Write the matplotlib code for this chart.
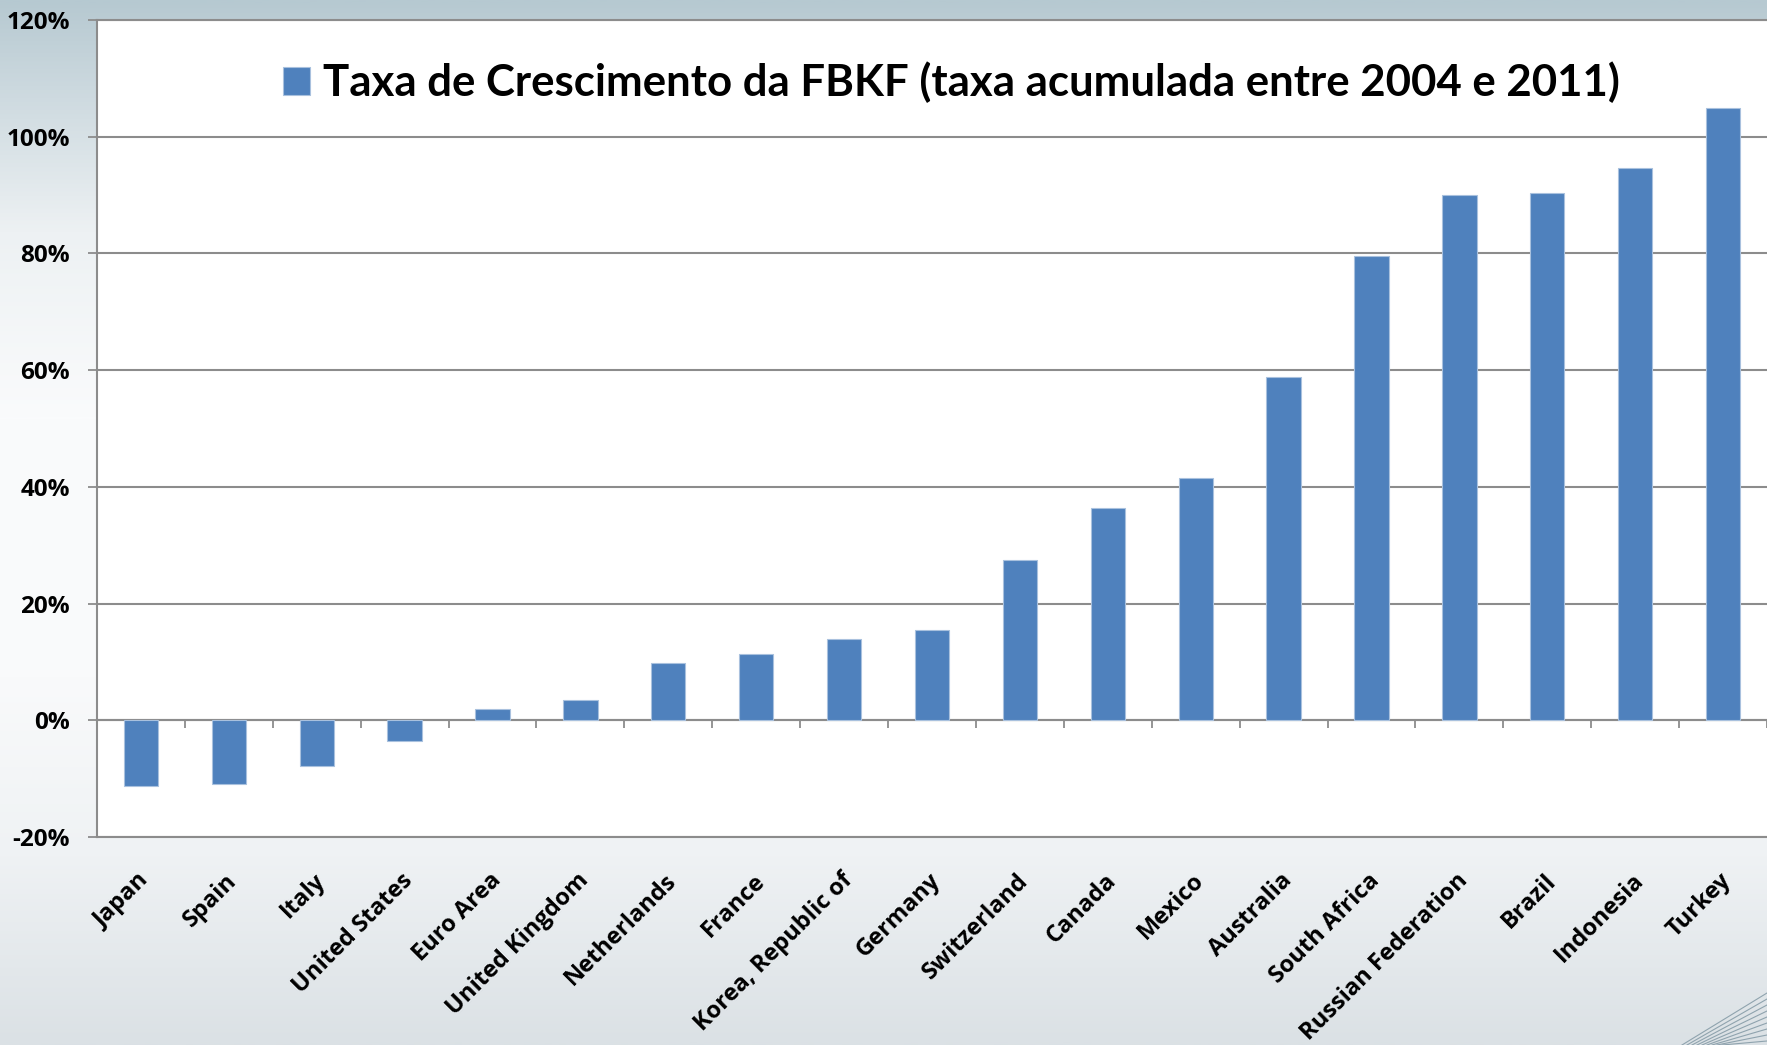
import numpy as np
import matplotlib
matplotlib.use("Agg")
import matplotlib.pyplot as plt
from matplotlib.ticker import PercentFormatter, FixedLocator
from matplotlib.colors import LinearSegmentedColormap
import matplotlib.transforms as mtransforms

plt.rcParams['axes.unicode_minus'] = False

categories = ["Japan", "Spain", "Italy", "United States", "Euro Area", "United Kingdom",
              "Netherlands", "France", "Korea, Republic of", "Germany", "Switzerland",
              "Canada", "Mexico", "Australia", "South Africa", "Russian Federation",
              "Brazil", "Indonesia", "Turkey"]
values = [-11.2, -10.9, -7.9, -3.6, 1.9, 3.4, 9.9, 11.4, 13.9, 15.4, 27.4,
          36.4, 41.6, 58.8, 79.5, 90.0, 90.3, 94.6, 105.0]
series_name = "Taxa de Crescimento da FBKF (taxa acumulada entre 2004 e 2011)"
yticks = [-20, 0, 20, 40, 60, 80, 100, 120]

W, H = 1767, 1045
fig = plt.figure(figsize=(W / 100, H / 100), dpi=100)

# slide background gradient
bg = fig.add_axes([0, 0, 1, 1], zorder=-10)
stops = [(0.0, "#b6c9d1"), (0.08, "#cbd8de"), (0.22, "#edf1f3"), (0.40, "#fafbfc"),
         (0.65, "#f9fafb"), (0.82, "#eff2f4"), (1.0, "#dbe1e5")]
cmap = LinearSegmentedColormap.from_list("slide", stops)
grad = np.linspace(0, 1, 512).reshape(-1, 1)
bg.imshow(grad, cmap=cmap, aspect="auto", extent=(0, W, H, 0))
for i in range(9):
    bg.plot([1682 + i * 5, W], [H, 993 + i * 6], color="#8fa3ae", lw=0.8)
bg.set_xlim(0, W)
bg.set_ylim(H, 0)
bg.axis("off")

ax = fig.add_axes([97 / W, 1 - 837 / H, 1 - 97 / W, (837 - 20) / H])
ax.set_facecolor("white")
x = np.arange(len(categories))
gray = "#8c8c8c"
bars = ax.bar(x, values, width=0.39, color="#4f81bd", edgecolor="#a9c1de",
              linewidth=0.8, label=series_name, zorder=3)

ax.set_xlim(-0.5, len(categories) - 0.5)
ax.set_ylim(yticks[0], yticks[-1])
ax.set_yticks(yticks)
ax.yaxis.set_major_formatter(PercentFormatter(100, decimals=0))
ax.grid(axis="y", color=gray, lw=1.5, zorder=0)
ax.tick_params(axis="y", direction="out", length=6.5, width=1.3, color=gray, pad=13,
               labelsize=17.5)
for lab in ax.get_yticklabels():
    lab.set_fontfamily("Open Sans")
    lab.set_fontweight("bold")

ax.spines["right"].set_visible(False)
for s in ["left", "top", "bottom"]:
    ax.spines[s].set_color(gray)
    ax.spines[s].set_linewidth(1.5)
ax.spines["bottom"].set_position(("data", 0))
ax.set_xticks([])
ax.xaxis.set_minor_locator(FixedLocator(np.arange(len(categories) + 1) - 0.5))
ax.tick_params(axis="x", which="minor", direction="out", length=5.8, width=1.3, color=gray)

sec = ax.secondary_xaxis(0.0)
sec.set_xticks(x)
sec.set_xticklabels(categories, rotation=45, ha="right", va="center",
                    rotation_mode="anchor", fontsize=17, fontweight="bold",
                    fontfamily="Open Sans")
sec.tick_params(axis="x", length=0, pad=29)
sec.spines["bottom"].set_color(gray)
sec.spines["bottom"].set_linewidth(1.5)
offset = mtransforms.ScaledTranslation(5 / 100, 0, fig.dpi_scale_trans)
for lab in sec.get_xticklabels():
    lab.set_transform(lab.get_transform() + offset)

leg = ax.legend(loc="center left", bbox_to_anchor=(283 / W, 1 - 82.5 / H),
                bbox_transform=fig.transFigure, frameon=False, borderpad=0,
                borderaxespad=0, handlelength=0.62, handleheight=0.62,
                handletextpad=0.30, prop={"family": "Lato", "weight": "bold", "size": 31.5})

fig.savefig("out.png", dpi=100)
